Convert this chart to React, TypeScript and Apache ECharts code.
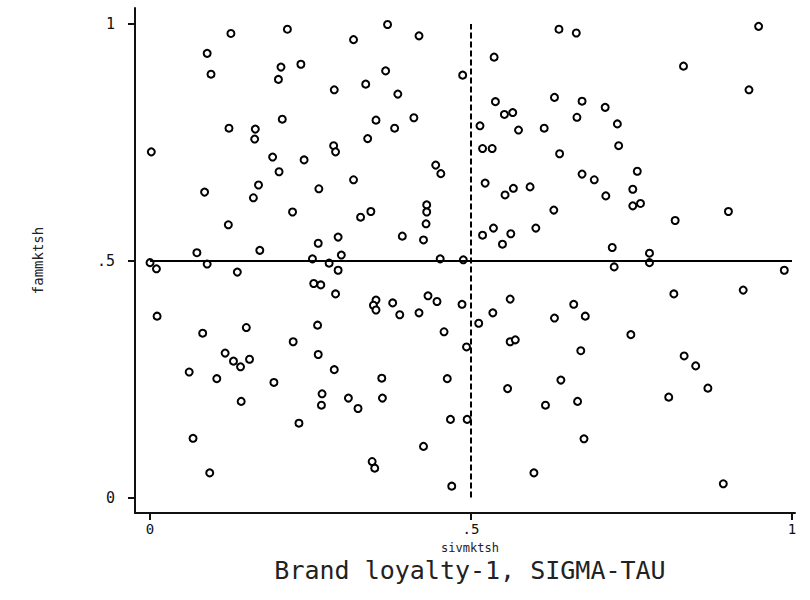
import React, { useEffect, useRef } from "react";
import * as echarts from "echarts";

// sivmktsh (x) values
const sivmktsh: number[] = [
  0.126, 0.214, 0.089, 0.204, 0.235, 0.095, 0.2, 0.206, 0.123, 0.164,
  0.163, 0.37, 0.317, 0.419, 0.367, 0.336, 0.287, 0.386, 0.487, 0.352,
  0.411, 0.381, 0.339, 0.514, 0.637, 0.664, 0.536, 0.538, 0.63, 0.673,
  0.709, 0.552, 0.565, 0.665, 0.728, 0.574, 0.614, 0.948, 0.831, 0.933,
  0.002, 0.191, 0.24, 0.201, 0.169, 0.085, 0.161, 0.222, 0.122, 0.073,
  0.171, 0.0, 0.089, 0.01, 0.136, 0.286, 0.289, 0.445, 0.453, 0.317,
  0.263, 0.431, 0.431, 0.43, 0.344, 0.328, 0.293, 0.262, 0.393, 0.426,
  0.298, 0.253, 0.279, 0.452, 0.488, 0.293, 0.518, 0.533, 0.638, 0.73,
  0.673, 0.692, 0.759, 0.522, 0.553, 0.566, 0.592, 0.71, 0.752, 0.752,
  0.764, 0.629, 0.518, 0.535, 0.562, 0.549, 0.601, 0.72, 0.723, 0.818,
  0.901, 0.778, 0.778, 0.988, 0.011, 0.082, 0.15, 0.223, 0.117, 0.13,
  0.141, 0.155, 0.061, 0.104, 0.193, 0.142, 0.232, 0.067, 0.093, 0.255,
  0.266, 0.289, 0.352, 0.348, 0.352, 0.378, 0.389, 0.419, 0.433, 0.447,
  0.486, 0.512, 0.261, 0.458, 0.493, 0.262, 0.287, 0.361, 0.463, 0.268,
  0.267, 0.309, 0.324, 0.362, 0.468, 0.494, 0.426, 0.346, 0.35, 0.47,
  0.561, 0.534, 0.66, 0.63, 0.678, 0.749, 0.561, 0.569, 0.671, 0.64,
  0.557, 0.616, 0.666, 0.676, 0.598, 0.816, 0.832, 0.85, 0.869, 0.808,
  0.893, 0.924,
];

// fammktsh (y) values
const fammktsh: number[] = [
  0.98, 0.989, 0.938, 0.909, 0.915, 0.894, 0.883, 0.799, 0.78, 0.778,
  0.757, 0.999, 0.967, 0.975, 0.901, 0.873, 0.861, 0.852, 0.892, 0.797,
  0.802, 0.78, 0.758, 0.785, 0.989, 0.981, 0.93, 0.836, 0.845, 0.837,
  0.824, 0.809, 0.813, 0.803, 0.789, 0.776, 0.78, 0.995, 0.911, 0.861,
  0.73, 0.719, 0.713, 0.688, 0.66, 0.645, 0.633, 0.603, 0.576, 0.517,
  0.522, 0.496, 0.493, 0.483, 0.476, 0.743, 0.73, 0.702, 0.684, 0.671,
  0.652, 0.618, 0.603, 0.578, 0.604, 0.592, 0.55, 0.537, 0.552, 0.544,
  0.512, 0.504, 0.495, 0.504, 0.502, 0.48, 0.737, 0.737, 0.726, 0.743,
  0.683, 0.671, 0.689, 0.664, 0.639, 0.653, 0.656, 0.637, 0.651, 0.616,
  0.621, 0.607, 0.554, 0.569, 0.557, 0.535, 0.569, 0.528, 0.487, 0.585,
  0.604, 0.516, 0.496, 0.48, 0.383, 0.347, 0.359, 0.329, 0.305, 0.288,
  0.276, 0.292, 0.265, 0.251, 0.243, 0.203, 0.157, 0.125, 0.052, 0.452,
  0.449, 0.43, 0.417, 0.406, 0.396, 0.411, 0.386, 0.39, 0.426, 0.414,
  0.408, 0.368, 0.364, 0.35, 0.318, 0.302, 0.27, 0.252, 0.251, 0.219,
  0.195, 0.21, 0.188, 0.21, 0.165, 0.165, 0.108, 0.076, 0.062, 0.024,
  0.419, 0.39, 0.408, 0.379, 0.383, 0.344, 0.329, 0.333, 0.31, 0.248,
  0.23, 0.195, 0.203, 0.124, 0.052, 0.43, 0.299, 0.278, 0.231, 0.212,
  0.029, 0.438,
];

const tickValues: number[] = [0, 0.5, 1];
const tickLabels: string[] = ["0", ".5", "1"];
const xTitle = "sivmktsh";
const yTitle = "fammktsh";
const caption = "Brand loyalty-1, SIGMA-TAU";
const meanX = 0.5;
const meanY = 0.5;

const FONT = "'DejaVu Sans Mono', monospace";

export default function App() {
  const ref = useRef<HTMLDivElement>(null);
  useEffect(() => {
    if (!ref.current) return;
    const chart = echarts.init(ref.current, null, { renderer: "svg" });
    const points = sivmktsh.map((x, i) => [x, fammktsh[i]]);
    const fmt = (v: number) => {
      const i = tickValues.findIndex((t) => Math.abs(t - v) < 1e-9);
      return i >= 0 ? tickLabels[i] : "";
    };
    chart.setOption({
      animation: false,
      backgroundColor: "#ffffff",
      grid: { left: 135, right: 15, top: 8, bottom: 87 },
      xAxis: {
        type: "value",
        min: -0.0234,
        max: 1.0047,
        splitLine: { show: false },
        axisLine: { show: true, onZero: false, lineStyle: { color: "#111", width: 2 } },
        axisTick: { show: true, customValues: tickValues, length: 7, lineStyle: { color: "#111", width: 2 } },
        axisLabel: {
          customValues: tickValues,
          formatter: fmt,
          margin: 9,
          color: "#111",
          fontFamily: FONT,
          fontSize: 14,
        },
      },
      yAxis: {
        type: "value",
        min: -0.0327,
        max: 1.0338,
        splitLine: { show: false },
        axisLine: { show: true, onZero: false, lineStyle: { color: "#111", width: 2 } },
        axisTick: { show: true, customValues: tickValues, length: 7, lineStyle: { color: "#111", width: 2 } },
        axisLabel: {
          customValues: tickValues,
          formatter: fmt,
          margin: 20,
          color: "#111",
          fontFamily: FONT,
          fontSize: 15,
        },
        name: yTitle,
        nameLocation: "middle",
        nameRotate: 90,
        nameGap: 90,
        nameTextStyle: { color: "#222", fontFamily: FONT, fontSize: 14 },
      },
      graphic: [
        {
          type: "text",
          x: 470,
          y: 542,
          style: {
            text: xTitle,
            fill: "#222",
            font: `12px ${FONT}`,
            textAlign: "center",
            textVerticalAlign: "top",
          },
        },
        {
          type: "text",
          x: 470,
          y: 570,
          style: {
            text: caption,
            fill: "#222",
            font: `25px ${FONT}`,
            textAlign: "center",
            textVerticalAlign: "middle",
          },
        },
      ],
      series: [
        {
          type: "scatter",
          data: points,
          symbol: "circle",
          symbolSize: 7,
          itemStyle: { color: "#ffffff", borderColor: "#000", borderWidth: 2, opacity: 1 },
          emphasis: { disabled: true },
          markLine: {
            silent: true,
            symbol: "none",
            label: { show: false },
            data: [
              [
                { coord: [0, meanY], lineStyle: { type: "solid", color: "#000", width: 2 } },
                { coord: [1, meanY] },
              ],
              [
                { coord: [meanX, 0], lineStyle: { type: [6, 3], color: "#000", width: 2 } },
                { coord: [meanX, 1] },
              ],
            ],
          },
          z: 3,
        },
      ],
    });
    return () => chart.dispose();
  }, []);
  return (
    <div
      ref={ref}
      style={{ position: "fixed", left: 0, top: 0, width: 810, height: 600, background: "#fff" }}
    />
  );
}
